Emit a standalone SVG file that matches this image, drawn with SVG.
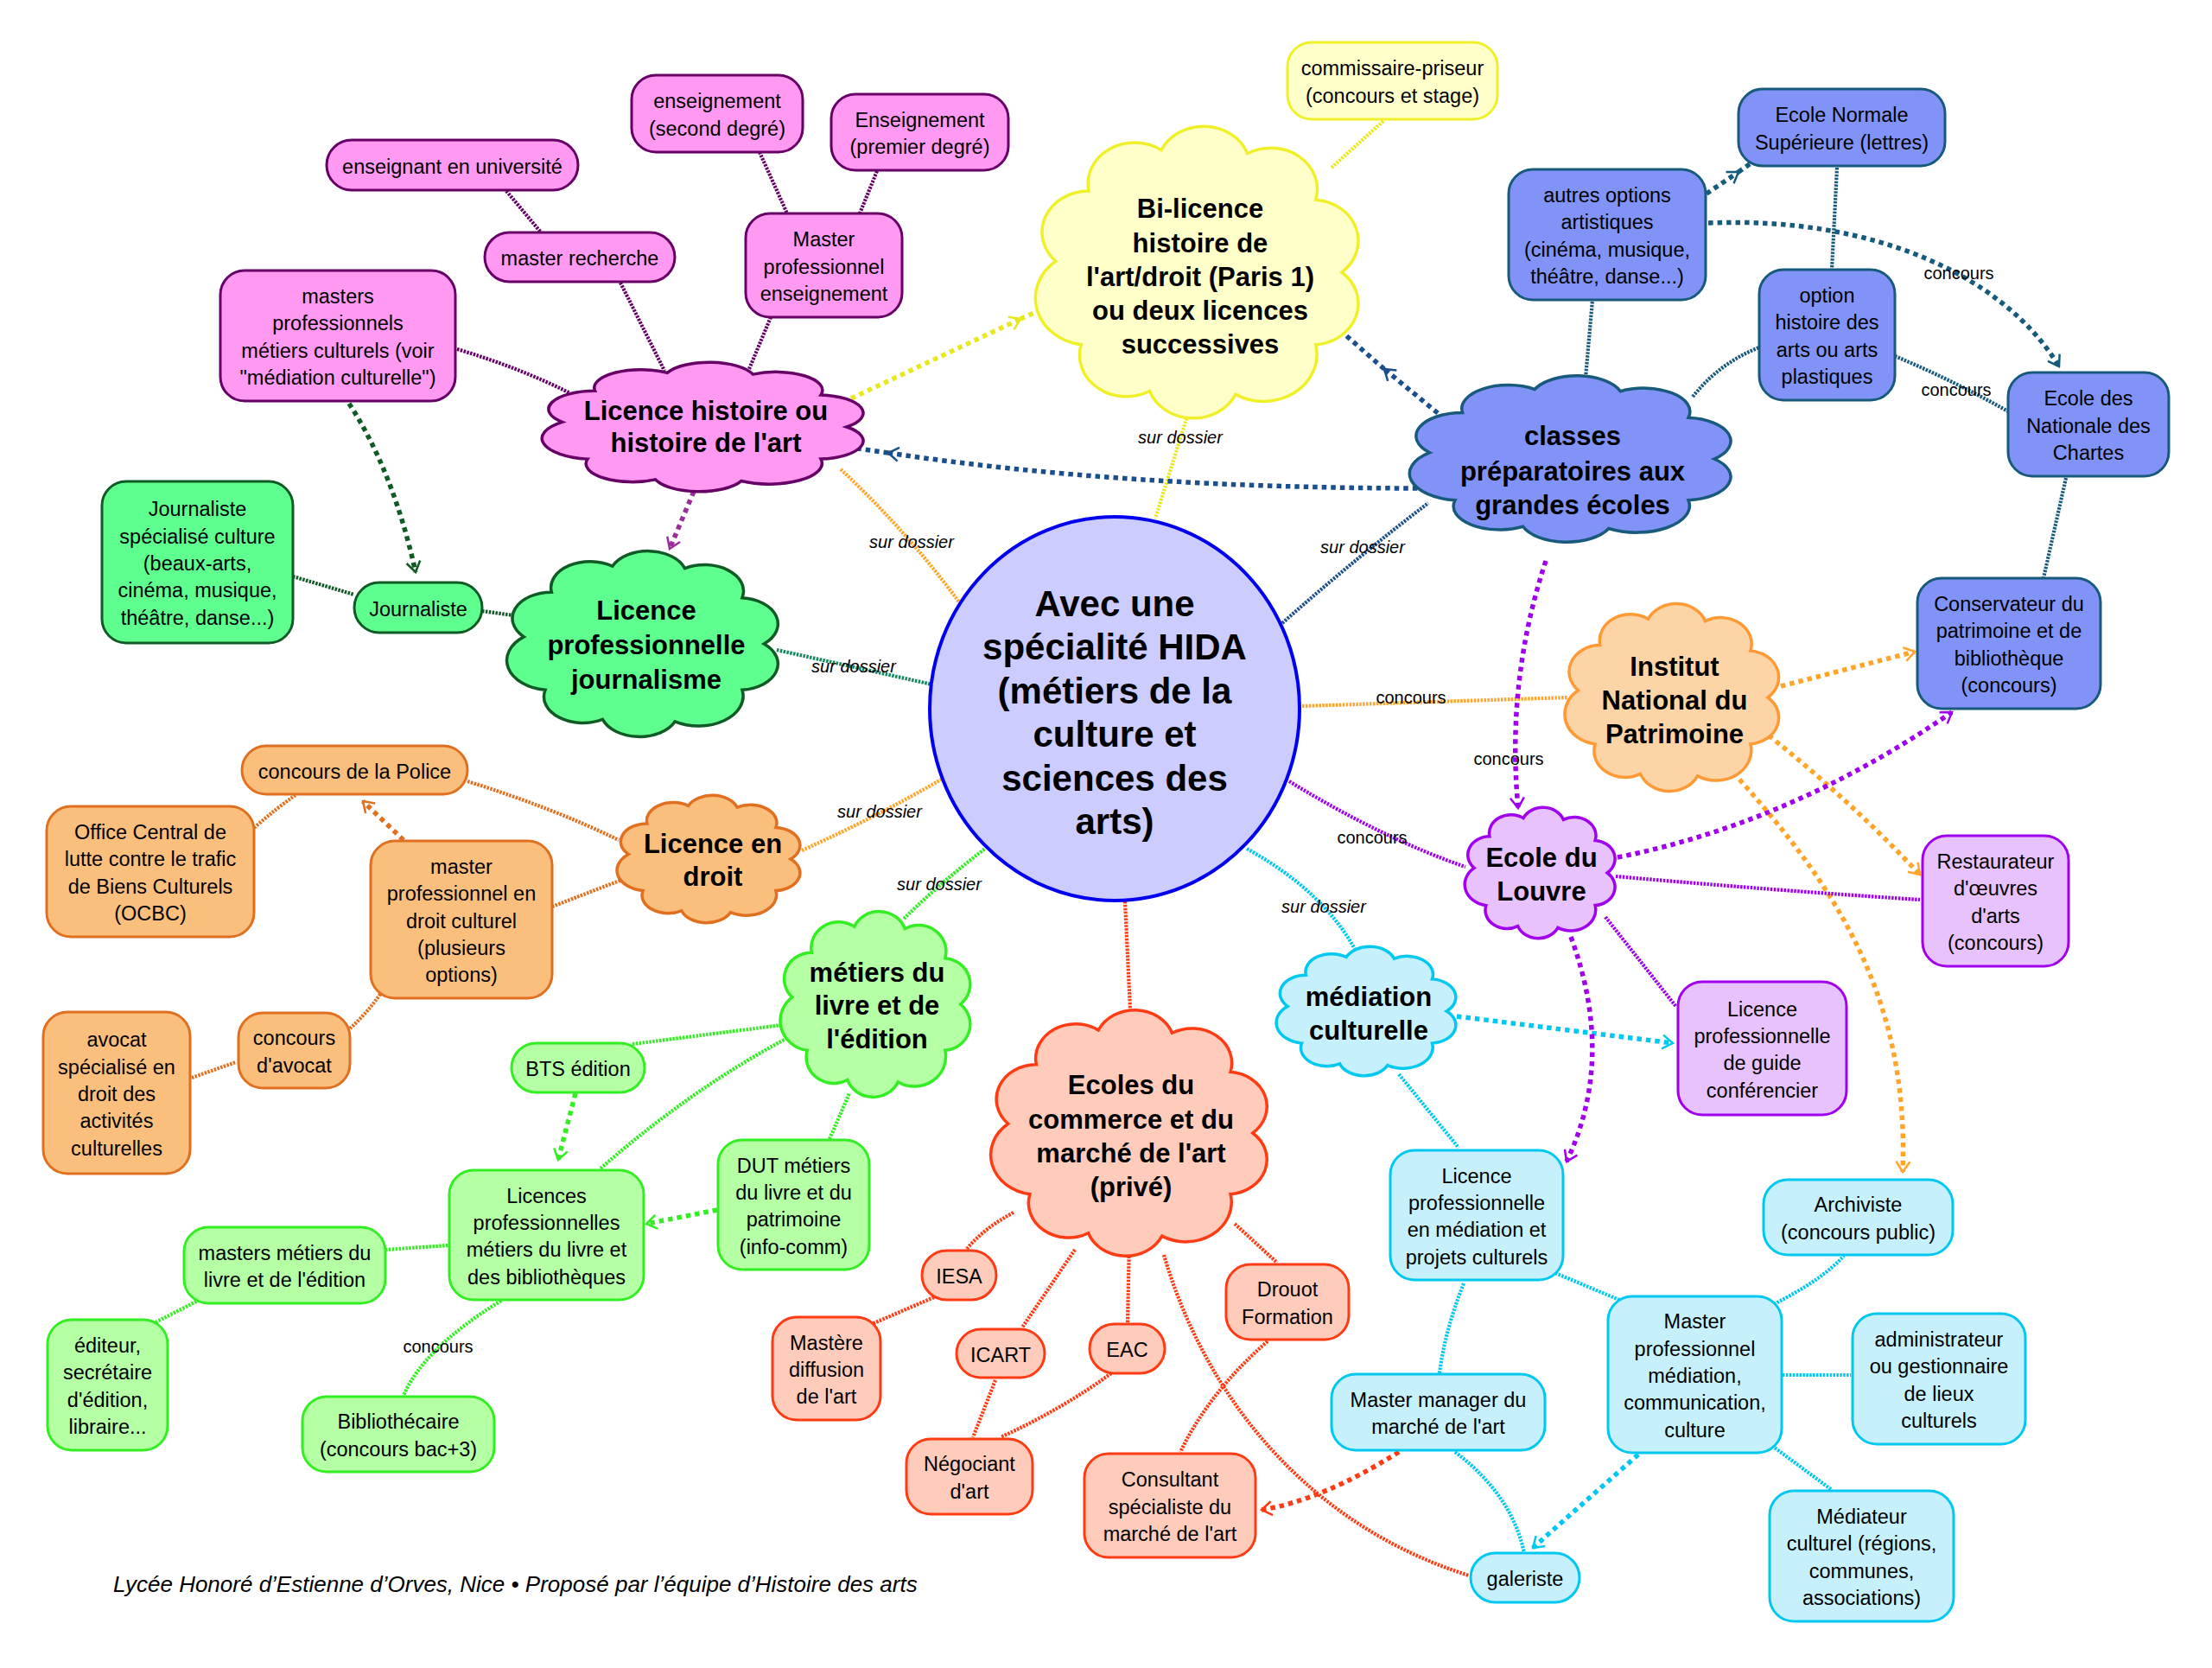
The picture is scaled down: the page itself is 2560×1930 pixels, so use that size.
<svg xmlns="http://www.w3.org/2000/svg" width="2560" height="1930" viewBox="0 0 2560 1930">
<style>
text{font-family:"Liberation Sans",Arial,sans-serif;fill:#000}
.t{font-size:23.5px;text-anchor:middle}
.c{font-size:31px;font-weight:bold;text-anchor:middle}
.m{font-size:42px;font-weight:bold;text-anchor:middle}
.l{font-size:20px;text-anchor:middle}
.i{font-style:italic}
.ft{font-size:26px;font-style:italic}
.th{fill:none;stroke-width:4.2;stroke-dasharray:2.5 1.4}
.tk{fill:none;stroke-width:5.5;stroke-dasharray:5.5 5}
.b{stroke-width:3}
.cl{stroke-width:3.5}
.ctr{fill:#ccccff;stroke:#0000ee;stroke-width:4}
.pk{fill:#ff99f2;stroke:#660066}
.jg{fill:#5eff8e;stroke:#0f5a25}
.dr{fill:#fbbf7d;stroke:#e07020}
.lv{fill:#b5ffa5;stroke:#33ee22}
.sa{fill:#ffcbbb;stroke:#ff3b14}
.cy{fill:#c6f0fb;stroke:#00c8f0}
.pu{fill:#e8c2fc;stroke:#a000ee}
.bl{fill:#8193f7;stroke:#175a7c}
.ye{fill:#ffffc9;stroke:#f0f02a}
.ip{fill:#fdd4a5;stroke:#ff9933}
.sY{stroke:#e8e820}.sO{stroke:#ffa52a}.sB{stroke:#1b4f8c}.sT{stroke:#175a7c}.sP{stroke:#660066}.sM{stroke:#9b2d9b}
.sG{stroke:#0f5a25}.sJ{stroke:#168a5e}.sD{stroke:#e07020}.sL{stroke:#33ee22}.sR{stroke:#ff3b14}.sC{stroke:#00c8f0}.sV{stroke:#a000ee}
</style>
<defs>
<path id="cloud" vector-effect="non-scaling-stroke" d="M86,0 A28,28 0 0 1 70.4,49.3 A32,32 0 0 1 22.3,83.1 A28,28 0 0 1 -29.4,80.8 A28,28 0 0 1 -70.4,49.3 A32,32 0 0 1 -85.7,-7.5 A28,28 0 0 1 -65.9,-55.3 A28,28 0 0 1 -22.3,-83.1 A28,28 0 0 1 29.4,-80.8 A28,28 0 0 1 70.4,-49.3 A28,28 0 0 1 86,0 Z"/>
<marker id="aY" viewBox="0 0 16 20" refX="14" refY="10" markerWidth="16" markerHeight="20" markerUnits="userSpaceOnUse" orient="auto"><path d="M2,2 L14,10 L2,18" fill="none" stroke="#e8e820" stroke-width="2.5"/></marker>
<marker id="aO" viewBox="0 0 16 20" refX="14" refY="10" markerWidth="16" markerHeight="20" markerUnits="userSpaceOnUse" orient="auto"><path d="M2,2 L14,10 L2,18" fill="none" stroke="#ffa52a" stroke-width="2.5"/></marker>
<marker id="aB" viewBox="0 0 16 20" refX="14" refY="10" markerWidth="16" markerHeight="20" markerUnits="userSpaceOnUse" orient="auto"><path d="M2,2 L14,10 L2,18" fill="none" stroke="#1b4f8c" stroke-width="2.5"/></marker>
<marker id="aT" viewBox="0 0 16 20" refX="14" refY="10" markerWidth="16" markerHeight="20" markerUnits="userSpaceOnUse" orient="auto"><path d="M2,2 L14,10 L2,18" fill="none" stroke="#175a7c" stroke-width="2.5"/></marker>
<marker id="aM" viewBox="0 0 16 20" refX="14" refY="10" markerWidth="16" markerHeight="20" markerUnits="userSpaceOnUse" orient="auto"><path d="M2,2 L14,10 L2,18" fill="none" stroke="#9b2d9b" stroke-width="2.5"/></marker>
<marker id="aG" viewBox="0 0 16 20" refX="14" refY="10" markerWidth="16" markerHeight="20" markerUnits="userSpaceOnUse" orient="auto"><path d="M2,2 L14,10 L2,18" fill="none" stroke="#0f5a25" stroke-width="2.5"/></marker>
<marker id="aD" viewBox="0 0 16 20" refX="14" refY="10" markerWidth="16" markerHeight="20" markerUnits="userSpaceOnUse" orient="auto"><path d="M2,2 L14,10 L2,18" fill="none" stroke="#e07020" stroke-width="2.5"/></marker>
<marker id="aL" viewBox="0 0 16 20" refX="14" refY="10" markerWidth="16" markerHeight="20" markerUnits="userSpaceOnUse" orient="auto"><path d="M2,2 L14,10 L2,18" fill="none" stroke="#33ee22" stroke-width="2.5"/></marker>
<marker id="aR" viewBox="0 0 16 20" refX="14" refY="10" markerWidth="16" markerHeight="20" markerUnits="userSpaceOnUse" orient="auto"><path d="M2,2 L14,10 L2,18" fill="none" stroke="#ff3b14" stroke-width="2.5"/></marker>
<marker id="aC" viewBox="0 0 16 20" refX="14" refY="10" markerWidth="16" markerHeight="20" markerUnits="userSpaceOnUse" orient="auto"><path d="M2,2 L14,10 L2,18" fill="none" stroke="#00c8f0" stroke-width="2.5"/></marker>
<marker id="aV" viewBox="0 0 16 20" refX="14" refY="10" markerWidth="16" markerHeight="20" markerUnits="userSpaceOnUse" orient="auto"><path d="M2,2 L14,10 L2,18" fill="none" stroke="#a000ee" stroke-width="2.5"/></marker>
</defs>
<rect width="2560" height="1930" fill="#ffffff"/>
<g id="connectors">
<path class="tk sY" marker-end="url(#aY)" d="M985,461 L1181,369"/>
<path class="tk sY" d="M1181,369 L1214,354"/>
<path class="th sY" d="M1378,469 L1337,600"/>
<path class="th sY" d="M1541,194 L1602,139"/>
<path class="th sO" d="M973,543 Q1050,615 1111,698"/>
<path class="th sO" d="M928,984 Q1015,945 1089,902"/>
<path class="th sO" d="M1507,817 L1815,807"/>
<path class="tk sO" marker-end="url(#aO)" d="M2061,794 L2216,754"/>
<path class="tk sO" marker-end="url(#aO)" d="M2047,851 Q2140,925 2222,1012"/>
<path class="tk sO" marker-end="url(#aO)" d="M2006,894 C2120,1020 2210,1150 2202,1356"/>
<path class="tk sB" marker-end="url(#aB)" d="M1651,565 Q1300,565 1028,524"/>
<path class="tk sB" d="M1028,524 L985,518"/>
<path class="tk sB" marker-end="url(#aB)" d="M1664,478 L1602,427"/>
<path class="tk sB" d="M1602,427 L1553,384"/>
<path class="th sB" d="M1484,721 Q1570,645 1653,582"/>
<path class="th sT" d="M1835,437 L1843,347"/>
<path class="th sT" d="M1959,459 Q1990,420 2036,402"/>
<path class="tk sT" marker-end="url(#aT)" d="M1975,224 L2012,199"/>
<path class="tk sT" d="M2012,199 L2026,189"/>
<path class="tk sT" marker-end="url(#aT)" d="M1977,258 C2170,250 2320,320 2383,424"/>
<path class="th sT" d="M2126,194 L2120,312"/>
<path class="th sT" d="M2193,412 Q2260,440 2324,476"/>
<path class="th sT" d="M2391,553 L2365,669"/>
<path class="th sP" d="M586,221 L627,270"/>
<path class="th sP" d="M718,327 L769,429"/>
<path class="th sP" d="M879,176 L911,247"/>
<path class="th sP" d="M1015,198 L995,247"/>
<path class="th sP" d="M892,367 L867,427"/>
<path class="th sP" d="M529,404 Q600,425 660,455"/>
<path class="tk sM" marker-end="url(#aM)" d="M807,559 L775,635"/>
<path class="tk sG" marker-end="url(#aG)" d="M404,467 Q455,545 481,662"/>
<path class="th sG" d="M339,667 L410,688"/>
<path class="th sG" d="M558,707 L594,712"/>
<path class="th sJ" d="M899,752 L1079,792"/>
<path class="th sD" d="M541,904 Q640,935 716,972"/>
<path class="th sD" d="M294,958 Q320,935 342,920"/>
<path class="tk sD" marker-end="url(#aD)" d="M467,972 L420,927"/>
<path class="th sD" d="M639,1049 L730,1014"/>
<path class="th sD" d="M405,1190 Q425,1172 441,1149"/>
<path class="th sD" d="M222,1247 L273,1229"/>
<path class="th sL" d="M1046,1063 Q1090,1020 1140,982"/>
<path class="th sL" d="M732,1208 L913,1185"/>
<path class="th sL" d="M695,1352 Q800,1260 913,1200"/>
<path class="th sL" d="M960,1318 L983,1265"/>
<path class="tk sL" marker-end="url(#aL)" d="M666,1265 L646,1342"/>
<path class="tk sL" marker-end="url(#aL)" d="M830,1400 L748,1416"/>
<path class="th sL" d="M446,1446 L519,1441"/>
<path class="th sL" d="M180,1530 L229,1505"/>
<path class="th sL" d="M580,1505 Q490,1560 467,1615"/>
<path class="th sR" d="M1302,1043 L1308,1168"/>
<path class="th sR" d="M1173,1403 Q1140,1420 1118,1446"/>
<path class="th sR" d="M1081,1501 L1009,1532"/>
<path class="th sR" d="M1244,1446 L1183,1536"/>
<path class="th sR" d="M1152,1597 L1126,1663"/>
<path class="th sR" d="M1307,1434 L1305,1530"/>
<path class="th sR" d="M1286,1589 Q1230,1630 1158,1663"/>
<path class="th sR" d="M1429,1416 L1478,1461"/>
<path class="th sR" d="M1467,1552 Q1400,1610 1366,1680"/>
<path class="th sR" d="M1347,1452 C1390,1600 1500,1760 1700,1823"/>
<path class="tk sR" marker-end="url(#aR)" d="M1619,1680 Q1530,1736 1460,1747"/>
<path class="th sC" d="M1443,982 Q1530,1030 1568,1098"/>
<path class="tk sC" marker-end="url(#aC)" d="M1686,1176 L1936,1207"/>
<path class="th sC" d="M1619,1243 L1688,1328"/>
<path class="th sC" d="M1694,1485 Q1672,1540 1666,1589"/>
<path class="th sC" d="M1800,1473 L1874,1504"/>
<path class="th sC" d="M1684,1680 Q1750,1730 1764,1797"/>
<path class="tk sC" marker-end="url(#aC)" d="M1896,1683 L1774,1791"/>
<path class="th sC" d="M2053,1509 Q2110,1480 2134,1453"/>
<path class="th sC" d="M2063,1591 L2142,1591"/>
<path class="th sC" d="M2051,1673 L2120,1724"/>
<path class="th sV" d="M1492,904 Q1600,970 1696,1003"/>
<path class="tk sV" marker-end="url(#aV)" d="M1789,649 Q1743,788 1757,935"/>
<path class="tk sV" marker-end="url(#aV)" d="M1872,992 Q2074,952 2259,824"/>
<path class="th sV" d="M1870,1014 Q2050,1030 2222,1041"/>
<path class="th sV" d="M1858,1061 L1940,1165"/>
<path class="tk sV" marker-end="url(#aV)" d="M1818,1084 Q1870,1225 1813,1344"/>
</g>
<g id="nodes">
<g id="n-center"><ellipse class="ctr" cx="1290" cy="820" rx="214" ry="222"/>
<text class="m"><tspan x="1290" y="713">Avec une</tspan><tspan x="1290" y="763">spécialité HIDA</tspan><tspan x="1290" y="814">(métiers de la</tspan><tspan x="1290" y="864">culture et</tspan><tspan x="1290" y="915">sciences des</tspan><tspan x="1290" y="965">arts)</tspan></text></g>

<g id="n-licence-histoire"><use href="#cloud" class="cl pk" transform="translate(815,494) scale(1.918,0.753)"/>
<text class="c"><tspan x="817" y="486">Licence histoire ou</tspan><tspan x="817" y="523">histoire de l'art</tspan></text></g>
<g id="n-bilicence"><use href="#cloud" class="cl ye" transform="translate(1387,315) scale(1.928,1.701)"/>
<text class="c"><tspan x="1389" y="252">Bi-licence</tspan><tspan x="1389" y="292">histoire de</tspan><tspan x="1389" y="331">l'art/droit (Paris 1)</tspan><tspan x="1389" y="370">ou deux licences</tspan><tspan x="1389" y="409">successives</tspan></text></g>
<g id="n-classes"><use href="#cloud" class="cl bl" transform="translate(1819,531) scale(1.918,0.969)"/>
<text class="c"><tspan x="1820" y="515">classes</tspan><tspan x="1820" y="556">préparatoires aux</tspan><tspan x="1820" y="595">grandes écoles</tspan></text></g>
<g id="n-journalisme"><use href="#cloud" class="cl jg" transform="translate(745,745) scale(1.619,1.082)"/>
<text class="c"><tspan x="748" y="717">Licence</tspan><tspan x="748" y="757">professionnelle</tspan><tspan x="748" y="797">journalisme</tspan></text></g>
<g id="n-droit"><use href="#cloud" class="cl dr" transform="translate(821,994) scale(1.093,0.742)"/>
<text class="c"><tspan x="825" y="987">Licence en</tspan><tspan x="825" y="1025">droit</tspan></text></g>
<g id="n-livre"><use href="#cloud" class="cl lv" transform="translate(1014,1162) scale(1.134,1.082)"/>
<text class="c"><tspan x="1015" y="1136">métiers du</tspan><tspan x="1015" y="1174">livre et de</tspan><tspan x="1015" y="1213">l'édition</tspan></text></g>
<g id="n-ecoles"><use href="#cloud" class="cl sa" transform="translate(1308,1311) scale(1.649,1.433)"/>
<text class="c"><tspan x="1309" y="1266">Ecoles du</tspan><tspan x="1309" y="1306">commerce et du</tspan><tspan x="1309" y="1345">marché de l'art</tspan><tspan x="1309" y="1384">(privé)</tspan></text></g>
<g id="n-mediation"><use href="#cloud" class="cl cy" transform="translate(1582,1170) scale(1.072,0.753)"/>
<text class="c"><tspan x="1584" y="1164">médiation</tspan><tspan x="1584" y="1203">culturelle</tspan></text></g>
<g id="n-louvre"><use href="#cloud" class="cl pu" transform="translate(1783,1010) scale(0.897,0.763)"/>
<text class="c"><tspan x="1784" y="1003">Ecole du</tspan><tspan x="1784" y="1042">Louvre</tspan></text></g>
<g id="n-inp"><use href="#cloud" class="cl ip" transform="translate(1936,807) scale(1.278,1.093)"/>
<text class="c"><tspan x="1938" y="782">Institut</tspan><tspan x="1938" y="821">National du</tspan><tspan x="1938" y="860">Patrimoine</tspan></text></g>

<g id="n-univ"><rect class="b pk" x="378" y="162" width="291" height="58" rx="29"/><text class="t" x="523.5" y="200.5">enseignant en université</text></g>
<g id="n-recherche"><rect class="b pk" x="561" y="269" width="220" height="57" rx="28.5"/><text class="t" x="671" y="307">master recherche</text></g>
<g id="n-masters-pro"><rect class="b pk" x="255" y="313" width="272" height="151" rx="28"/><text class="t"><tspan x="391" y="351">masters</tspan><tspan x="391" y="382.4">professionnels</tspan><tspan x="391" y="413.7">métiers culturels (voir</tspan><tspan x="391" y="445">"médiation culturelle")</tspan></text></g>
<g id="n-second"><rect class="b pk" x="731" y="87" width="198" height="89" rx="28"/><text class="t"><tspan x="830" y="125.4">enseignement</tspan><tspan x="830" y="156.7">(second degré)</tspan></text></g>
<g id="n-premier"><rect class="b pk" x="962" y="109" width="205" height="88" rx="28"/><text class="t"><tspan x="1064.5" y="146.9">Enseignement</tspan><tspan x="1064.5" y="178.2">(premier degré)</tspan></text></g>
<g id="n-master-ens"><rect class="b pk" x="863" y="247" width="181" height="120" rx="28"/><text class="t"><tspan x="953.5" y="285.2">Master</tspan><tspan x="953.5" y="316.5">professionnel</tspan><tspan x="953.5" y="347.8">enseignement</tspan></text></g>

<g id="n-journ-spec"><rect class="b jg" x="118" y="557" width="221" height="187" rx="28"/><text class="t"><tspan x="228.5" y="597.4">Journaliste</tspan><tspan x="228.5" y="628.7">spécialisé culture</tspan><tspan x="228.5" y="660">(beaux-arts,</tspan><tspan x="228.5" y="691.3">cinéma, musique,</tspan><tspan x="228.5" y="722.6">théâtre, danse...)</tspan></text></g>
<g id="n-journaliste"><rect class="b jg" x="410" y="674" width="148" height="58" rx="29"/><text class="t" x="484" y="712.5">Journaliste</text></g>

<g id="n-police"><rect class="b dr" x="280" y="863" width="261" height="56" rx="28"/><text class="t" x="410.5" y="900.5">concours de la Police</text></g>
<g id="n-ocbc"><rect class="b dr" x="54" y="933" width="240" height="151" rx="28"/><text class="t"><tspan x="174" y="971">Office Central de</tspan><tspan x="174" y="1002.4">lutte contre le trafic</tspan><tspan x="174" y="1033.7">de Biens Culturels</tspan><tspan x="174" y="1065">(OCBC)</tspan></text></g>
<g id="n-master-droit"><rect class="b dr" x="429" y="973" width="210" height="182" rx="28"/><text class="t"><tspan x="534" y="1010.9">master</tspan><tspan x="534" y="1042.2">professionnel en</tspan><tspan x="534" y="1073.5">droit culturel</tspan><tspan x="534" y="1104.8">(plusieurs</tspan><tspan x="534" y="1136.1">options)</tspan></text></g>
<g id="n-concours-avocat"><rect class="b dr" x="276" y="1172" width="129" height="87" rx="28"/><text class="t"><tspan x="340.5" y="1209.4">concours</tspan><tspan x="340.5" y="1240.7">d'avocat</tspan></text></g>
<g id="n-avocat"><rect class="b dr" x="50" y="1171" width="170" height="187" rx="28"/><text class="t"><tspan x="135" y="1211.4">avocat</tspan><tspan x="135" y="1242.7">spécialisé en</tspan><tspan x="135" y="1274">droit des</tspan><tspan x="135" y="1305.3">activités</tspan><tspan x="135" y="1336.6">culturelles</tspan></text></g>

<g id="n-bts"><rect class="b lv" x="592" y="1207" width="154" height="57" rx="28.5"/><text class="t" x="669" y="1245">BTS édition</text></g>
<g id="n-licpro-livre"><rect class="b lv" x="520" y="1354" width="225" height="150" rx="28"/><text class="t"><tspan x="632.5" y="1391.6">Licences</tspan><tspan x="632.5" y="1422.9">professionnelles</tspan><tspan x="632.5" y="1454.2">métiers du livre et</tspan><tspan x="632.5" y="1485.5">des bibliothèques</tspan></text></g>
<g id="n-dut"><rect class="b lv" x="831" y="1319" width="175" height="150" rx="28"/><text class="t"><tspan x="918.5" y="1356.6">DUT métiers</tspan><tspan x="918.5" y="1387.9">du livre et du</tspan><tspan x="918.5" y="1419.2">patrimoine</tspan><tspan x="918.5" y="1450.5">(info-comm)</tspan></text></g>
<g id="n-masters-livre"><rect class="b lv" x="213" y="1420" width="233" height="88" rx="28"/><text class="t"><tspan x="329.5" y="1457.9">masters métiers du</tspan><tspan x="329.5" y="1489.2">livre et de l'édition</tspan></text></g>
<g id="n-editeur"><rect class="b lv" x="55" y="1527" width="139" height="151" rx="28"/><text class="t"><tspan x="124.5" y="1565.1">éditeur,</tspan><tspan x="124.5" y="1596.4">secrétaire</tspan><tspan x="124.5" y="1627.7">d'édition,</tspan><tspan x="124.5" y="1659">libraire...</tspan></text></g>
<g id="n-biblio"><rect class="b lv" x="350" y="1616" width="222" height="87" rx="28"/><text class="t"><tspan x="461" y="1653.4">Bibliothécaire</tspan><tspan x="461" y="1684.7">(concours bac+3)</tspan></text></g>

<g id="n-iesa"><rect class="b sa" x="1067" y="1447" width="86" height="57" rx="28.5"/><text class="t" x="1110" y="1485">IESA</text></g>
<g id="n-mastere"><rect class="b sa" x="894" y="1524" width="125" height="119" rx="28"/><text class="t"><tspan x="956.5" y="1561.7">Mastère</tspan><tspan x="956.5" y="1593">diffusion</tspan><tspan x="956.5" y="1624.3">de l'art</tspan></text></g>
<g id="n-icart"><rect class="b sa" x="1107" y="1538" width="102" height="56" rx="28"/><text class="t" x="1158" y="1575.5">ICART</text></g>
<g id="n-eac"><rect class="b sa" x="1261" y="1532" width="87" height="57" rx="28.5"/><text class="t" x="1304.5" y="1570">EAC</text></g>
<g id="n-negociant"><rect class="b sa" x="1049" y="1665" width="146" height="87" rx="28"/><text class="t"><tspan x="1122" y="1702.4">Négociant</tspan><tspan x="1122" y="1733.7">d'art</tspan></text></g>
<g id="n-drouot"><rect class="b sa" x="1419" y="1463" width="142" height="87" rx="28"/><text class="t"><tspan x="1490" y="1500.4">Drouot</tspan><tspan x="1490" y="1531.7">Formation</tspan></text></g>
<g id="n-consultant"><rect class="b sa" x="1255" y="1682" width="198" height="120" rx="28"/><text class="t"><tspan x="1354" y="1720.2">Consultant</tspan><tspan x="1354" y="1751.5">spécialiste du</tspan><tspan x="1354" y="1782.8">marché de l'art</tspan></text></g>

<g id="n-licpro-med"><rect class="b cy" x="1609" y="1331" width="200" height="150" rx="28"/><text class="t"><tspan x="1709" y="1368.6">Licence</tspan><tspan x="1709" y="1399.9">professionnelle</tspan><tspan x="1709" y="1431.2">en médiation et</tspan><tspan x="1709" y="1462.5">projets culturels</tspan></text></g>
<g id="n-manager"><rect class="b cy" x="1541" y="1590" width="247" height="88" rx="28"/><text class="t"><tspan x="1664.5" y="1627.9">Master manager du</tspan><tspan x="1664.5" y="1659.2">marché de l'art</tspan></text></g>
<g id="n-galeriste"><rect class="b cy" x="1702" y="1797" width="126" height="57" rx="28.5"/><text class="t" x="1765" y="1835">galeriste</text></g>
<g id="n-master-med"><rect class="b cy" x="1861" y="1500" width="201" height="181" rx="28"/><text class="t"><tspan x="1961.5" y="1537.4">Master</tspan><tspan x="1961.5" y="1568.7">professionnel</tspan><tspan x="1961.5" y="1600">médiation,</tspan><tspan x="1961.5" y="1631.3">communication,</tspan><tspan x="1961.5" y="1662.6">culture</tspan></text></g>
<g id="n-archiviste"><rect class="b cy" x="2041" y="1365" width="219" height="87" rx="28"/><text class="t"><tspan x="2150.5" y="1402.4">Archiviste</tspan><tspan x="2150.5" y="1433.7">(concours public)</tspan></text></g>
<g id="n-admin"><rect class="b cy" x="2144" y="1520" width="200" height="151" rx="28"/><text class="t"><tspan x="2244" y="1558.1">administrateur</tspan><tspan x="2244" y="1589.4">ou gestionnaire</tspan><tspan x="2244" y="1620.7">de lieux</tspan><tspan x="2244" y="1652">culturels</tspan></text></g>
<g id="n-mediateur"><rect class="b cy" x="2048" y="1725" width="213" height="151" rx="28"/><text class="t"><tspan x="2154.5" y="1763.1">Médiateur</tspan><tspan x="2154.5" y="1794.4">culturel (régions,</tspan><tspan x="2154.5" y="1825.7">communes,</tspan><tspan x="2154.5" y="1857">associations)</tspan></text></g>

<g id="n-guide"><rect class="b pu" x="1942" y="1136" width="195" height="154" rx="28"/><text class="t"><tspan x="2039.5" y="1175.6">Licence</tspan><tspan x="2039.5" y="1206.9">professionnelle</tspan><tspan x="2039.5" y="1238.2">de guide</tspan><tspan x="2039.5" y="1269.5">conférencier</tspan></text></g>
<g id="n-restaurateur"><rect class="b pu" x="2225" y="967" width="169" height="151" rx="28"/><text class="t"><tspan x="2309.5" y="1005.1">Restaurateur</tspan><tspan x="2309.5" y="1036.4">d'œuvres</tspan><tspan x="2309.5" y="1067.7">d'arts</tspan><tspan x="2309.5" y="1099">(concours)</tspan></text></g>

<g id="n-conservateur"><rect class="b bl" x="2219" y="669" width="212" height="151" rx="28"/><text class="t"><tspan x="2325" y="707.1">Conservateur du</tspan><tspan x="2325" y="738.4">patrimoine et de</tspan><tspan x="2325" y="769.7">bibliothèque</tspan><tspan x="2325" y="801">(concours)</tspan></text></g>
<g id="n-ens"><rect class="b bl" x="2012" y="103" width="239" height="89" rx="28"/><text class="t"><tspan x="2131.5" y="141.4">Ecole Normale</tspan><tspan x="2131.5" y="172.7">Supérieure (lettres)</tspan></text></g>
<g id="n-autres"><rect class="b bl" x="1746" y="196" width="228" height="151" rx="28"/><text class="t"><tspan x="1860" y="234.1">autres options</tspan><tspan x="1860" y="265.4">artistiques</tspan><tspan x="1860" y="296.7">(cinéma, musique,</tspan><tspan x="1860" y="328">théâtre, danse...)</tspan></text></g>
<g id="n-option"><rect class="b bl" x="2036" y="312" width="157" height="151" rx="28"/><text class="t"><tspan x="2114.5" y="350.1">option</tspan><tspan x="2114.5" y="381.4">histoire des</tspan><tspan x="2114.5" y="412.7">arts ou arts</tspan><tspan x="2114.5" y="444">plastiques</tspan></text></g>
<g id="n-chartes"><rect class="b bl" x="2324" y="431" width="186" height="120" rx="28"/><text class="t"><tspan x="2417" y="469.2">Ecole des</tspan><tspan x="2417" y="500.5">Nationale des</tspan><tspan x="2417" y="531.8">Chartes</tspan></text></g>

<g id="n-commissaire"><rect class="b ye" x="1490" y="49" width="243" height="89" rx="28"/><text class="t"><tspan x="1611.5" y="87.4">commissaire-priseur</tspan><tspan x="1611.5" y="118.7">(concours et stage)</tspan></text></g>
</g>
<g id="labels">
<text class="l i" x="1055" y="634">sur dossier</text>
<text class="l i" x="1366" y="513">sur dossier</text>
<text class="l i" x="1577" y="640">sur dossier</text>
<text class="l i" x="988" y="778">sur dossier</text>
<text class="l i" x="1018" y="946">sur dossier</text>
<text class="l i" x="1087" y="1030">sur dossier</text>
<text class="l i" x="1532" y="1056">sur dossier</text>
<text class="l" x="1633" y="814">concours</text>
<text class="l" x="1746" y="885">concours</text>
<text class="l" x="1588" y="976">concours</text>
<text class="l" x="2267" y="323">concours</text>
<text class="l" x="2264" y="458">concours</text>
<text class="l" x="507" y="1565">concours</text>
</g>
<text class="ft" x="131" y="1842">Lycée Honoré d’Estienne d’Orves, Nice • Proposé par l’équipe d’Histoire des arts</text>
</svg>
